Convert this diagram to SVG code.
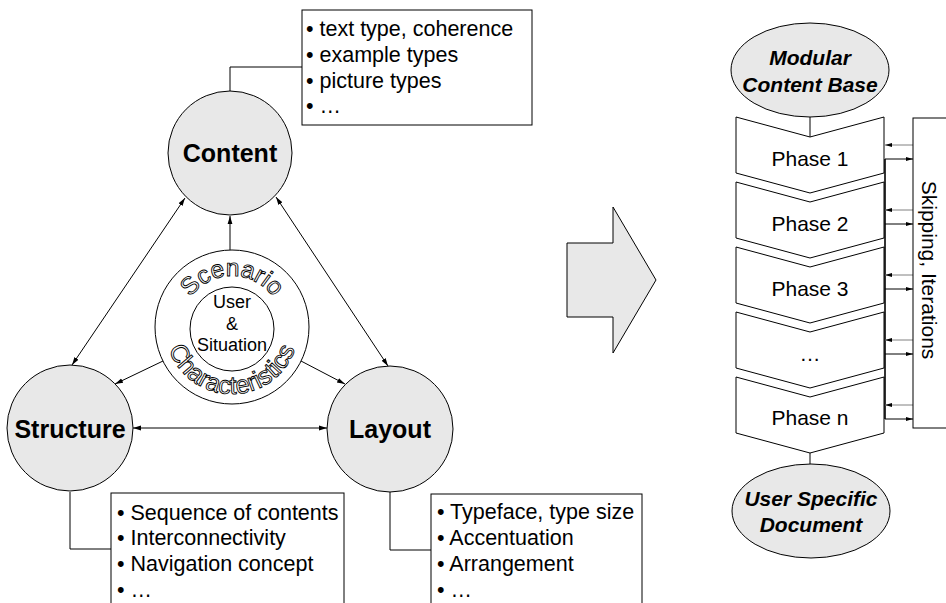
<svg xmlns="http://www.w3.org/2000/svg" width="946" height="603" viewBox="0 0 946 603">
<defs>
<style>
.t{font-family:"Liberation Sans",Arial,sans-serif;fill:#000}
.box{font-size:21.5px}
.node{fill:#e8e8e8;stroke:#000;stroke-width:1}
.wb{fill:#fff;stroke:#000;stroke-width:1}
.lbl{font-size:25px;font-weight:bold;text-anchor:middle}
.el{font-size:21px;font-weight:bold;font-style:italic;text-anchor:middle}
.ph{font-size:21px;text-anchor:middle}
.ln{stroke:#000;stroke-width:1;fill:none}
.gl{stroke:#808080;stroke-width:1;fill:none}
.ring{font-family:"Liberation Sans",Arial,sans-serif;fill:#fff;stroke:#000;stroke-width:0.9}
.ctr{font-size:18px;text-anchor:middle}
</style>
<marker id="ah" viewBox="0 0 10 10" refX="10" refY="5" markerWidth="8" markerHeight="8" markerUnits="userSpaceOnUse" orient="auto-start-reverse">
<path d="M0,2 L10,5 L0,8 z" fill="#000"/>
</marker>
<marker id="sh" viewBox="0 0 10 10" refX="10" refY="5" markerWidth="7" markerHeight="7" markerUnits="userSpaceOnUse" orient="auto">
<path d="M0,2 L10,5 L0,8 z" fill="#000"/>
</marker>
<path id="arcTop" d="M181 327 A51 51 0 0 1 283 327"/>
<path id="arcBot" d="M165 327 A67 67 0 0 0 299 327"/>
</defs>
<rect width="946" height="603" fill="#fff"/>

<g id="connectors">
<path class="ln" d="M230 91 V67 H302"/>
<path class="ln" d="M70 492 V549 H111"/>
<path class="ln" d="M390 492 V550 H431"/>
<line class="ln" x1="185" y1="198" x2="72" y2="365" marker-start="url(#ah)" marker-end="url(#ah)"/>
<line class="ln" x1="276" y1="197" x2="388" y2="366" marker-start="url(#ah)" marker-end="url(#ah)"/>
<line class="ln" x1="133" y1="428" x2="327" y2="428" marker-start="url(#ah)" marker-end="url(#ah)"/>
<line class="ln" x1="230" y1="250" x2="230" y2="216" marker-end="url(#ah)"/>
<line class="ln" x1="163" y1="361" x2="115" y2="384" marker-end="url(#ah)"/>
<line class="ln" x1="301" y1="361" x2="345" y2="384" marker-end="url(#ah)"/>
<line class="ln" x1="810" y1="117" x2="810" y2="137"/>
<line class="ln" x1="810" y1="453" x2="810" y2="464"/>
<line x1="885" y1="159" x2="885" y2="419" stroke="#000" stroke-width="1.6"/>
<g>
<line class="gl" x1="913" y1="145" x2="885" y2="145" marker-end="url(#sh)"/>
<line class="ln" x1="885" y1="159" x2="913" y2="159" marker-end="url(#sh)"/>
<line class="gl" x1="913" y1="210" x2="885" y2="210" marker-end="url(#sh)"/>
<line class="ln" x1="885" y1="224" x2="913" y2="224" marker-end="url(#sh)"/>
<line class="gl" x1="913" y1="275" x2="885" y2="275" marker-end="url(#sh)"/>
<line class="ln" x1="885" y1="289" x2="913" y2="289" marker-end="url(#sh)"/>
<line class="gl" x1="913" y1="340" x2="885" y2="340" marker-end="url(#sh)"/>
<line class="ln" x1="885" y1="354" x2="913" y2="354" marker-end="url(#sh)"/>
<line class="gl" x1="913" y1="405" x2="885" y2="405" marker-end="url(#sh)"/>
<line class="ln" x1="885" y1="419" x2="913" y2="419" marker-end="url(#sh)"/>
</g>
</g>

<g id="content-box">
<rect class="wb" x="302" y="10" width="230" height="115"/>
<text class="t box" x="306" y="36">• text type, coherence</text>
<text class="t box" x="306" y="62">• example types</text>
<text class="t box" x="306" y="88">• picture types</text>
<text class="t box" x="306" y="113">• …</text>
</g>

<g id="structure-box">
<rect class="wb" x="111" y="493" width="233" height="130"/>
<text class="t box" x="117" y="520">• Sequence of contents</text>
<text class="t box" x="117" y="545">• Interconnectivity</text>
<text class="t box" x="117" y="571">• Navigation concept</text>
<text class="t box" x="117" y="597">• …</text>
</g>

<g id="layout-box">
<rect class="wb" x="431" y="494" width="211" height="130"/>
<text class="t box" x="437" y="519">• Typeface, type size</text>
<text class="t box" x="437" y="545">• Accentuation</text>
<text class="t box" x="437" y="571">• Arrangement</text>
<text class="t box" x="437" y="597">• …</text>
</g>

<g id="content">
<circle class="node" cx="230" cy="153" r="62"/>
<text class="t lbl" x="230" y="162">Content</text>
</g>
<g id="structure">
<circle class="node" cx="70" cy="428" r="63"/>
<text class="t lbl" x="70" y="438">Structure</text>
</g>
<g id="layout">
<circle class="node" cx="390" cy="429" r="63"/>
<text class="t lbl" x="390" y="438">Layout</text>
</g>

<g id="scenario">
<circle class="wb" cx="232" cy="327" r="77"/>
<circle class="wb" cx="232" cy="329" r="42"/>
<text class="ring" font-size="24.5"><textPath href="#arcTop" startOffset="50%" text-anchor="middle">Scenario</textPath></text>
<text class="ring" font-size="25"><textPath href="#arcBot" startOffset="50%" text-anchor="middle">Characteristics</textPath></text>
<text class="t ctr" x="232" y="308">User</text>
<text class="t ctr" x="232" y="330">&amp;</text>
<text class="t ctr" x="232" y="351">Situation</text>
</g>

<g id="big-arrow">
<polygon points="567,243 613,243 613,207 656,280 613,353 613,317 567,317" fill="#e8e8e8" stroke="#000" stroke-width="1"/>
</g>

<g id="modular-content-base">
<ellipse class="node" cx="810" cy="70" rx="79" ry="47"/>
<text class="t el" x="810" y="65">Modular</text>
<text class="t el" x="810" y="92">Content Base</text>
</g>

<g id="phase1">
<path class="wb" d="M736 117 L810 137 L884 117 L884 173 L810 193 L736 173 Z"/>
<text class="t ph" x="810" y="166">Phase 1</text>
</g>
<g id="phase2">
<path class="wb" d="M736 182 L810 202 L884 182 L884 238 L810 258 L736 238 Z"/>
<text class="t ph" x="810" y="231">Phase 2</text>
</g>
<g id="phase3">
<path class="wb" d="M736 247 L810 267 L884 247 L884 303 L810 323 L736 303 Z"/>
<text class="t ph" x="810" y="296">Phase 3</text>
</g>
<g id="phase4">
<path class="wb" d="M736 312 L810 332 L884 312 L884 368 L810 388 L736 368 Z"/>
<text class="t ph" x="810" y="361">…</text>
</g>
<g id="phasen">
<path class="wb" d="M736 377 L810 397 L884 377 L884 433 L810 453 L736 433 Z"/>
<text class="t ph" x="810" y="425">Phase n</text>
</g>

<g id="user-specific-document">
<ellipse class="node" cx="811" cy="511" rx="79" ry="47"/>
<text class="t el" x="811" y="506">User Specific</text>
<text class="t el" x="811" y="532">Document</text>
</g>

<g id="skipping">
<rect class="wb" x="913" y="118" width="50" height="310"/>
<text class="t ph" transform="translate(922 270) rotate(90)">Skipping, Iterations</text>
</g>
</svg>
